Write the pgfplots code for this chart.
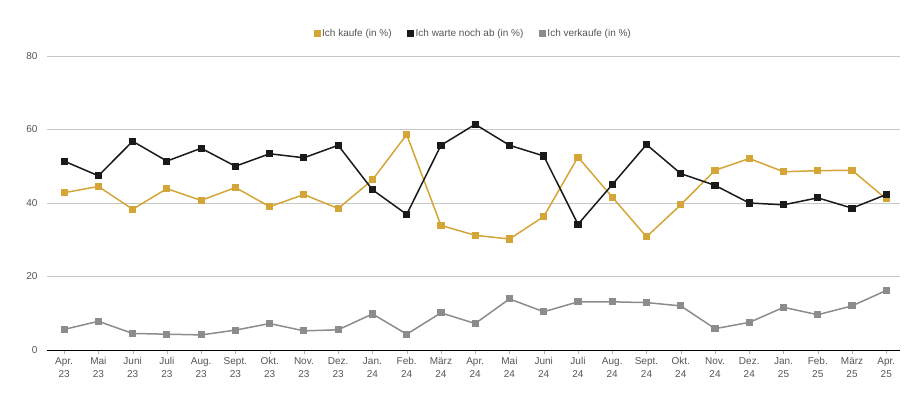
\documentclass[border=0pt]{standalone}
\usepackage{pgfplots}
\pgfplotsset{compat=1.18}
\usepackage{fontspec}
\setmainfont{Liberation Sans}
\definecolor{cgold}{HTML}{D4A537}
\definecolor{cblack}{HTML}{1A1A1A}
\definecolor{cgray}{HTML}{8C8C8C}
\definecolor{ctext}{HTML}{555555}
\begin{document}
\begin{tikzpicture}
\begin{axis}[
  scale only axis, width=853pt, height=294pt,
  xmin=-0.5, xmax=24.4, ymin=0, ymax=80,
  ytick={0,20,40,60,80},
  xtick={0,...,24},
  xticklabels={{Apr.\\23},{Mai\\23},{Juni\\23},{Juli\\23},{Aug.\\23},{Sept.\\23},{Okt.\\23},{Nov.\\23},{Dez.\\23},{Jan.\\24},{Feb.\\24},{März\\24},{Apr.\\24},{Mai\\24},{Juni\\24},{Juli\\24},{Aug.\\24},{Sept.\\24},{Okt.\\24},{Nov.\\24},{Dez.\\24},{Jan.\\25},{Feb.\\25},{März\\25},{Apr.\\25}},
  xticklabel style={align=center, font=\fontsize{10}{13}\selectfont, text=ctext},
  yticklabel style={font=\fontsize{10}{12}\selectfont, text=ctext, xshift=-2pt},
  /pgf/number format/assume math mode=true,
  ymajorgrids, grid style={color=black!22, line width=0.6pt},
  axis x line*=bottom, axis y line*=left,
  x axis line style={black, line width=0.8pt, -},
  y axis line style={draw=none},
  xtick style={draw=black!30}, tick align=outside, major tick length=4pt,
  ytick style={draw=none},
  legend style={at={(0.5,1.0)}, anchor=south, yshift=14pt, draw=none, font=\fontsize{10}{12}\selectfont, text=ctext, /tikz/every even column/.append style={column sep=14pt}},
  legend columns=3,
  legend image code/.code={\draw[#1, line width=0pt, mark=square*, mark size=3pt] plot coordinates {(0cm,0cm)};},
  every axis plot/.append style={line width=1.5pt, mark=square*, mark size=2.8pt},
]
\addplot[cgold, mark options={fill=cgold}] coordinates {(0,42.8)(1,44.5)(2,38.3)(3,43.9)(4,40.7)(5,44.2)(6,39.0)(7,42.3)(8,38.5)(9,46.3)(10,58.6)(11,33.9)(12,31.2)(13,30.2)(14,36.3)(15,52.5)(16,41.6)(17,30.8)(18,39.5)(19,48.9)(20,52.1)(21,48.5)(22,48.8)(23,48.9)(24,41.1)};
\addlegendentry{Ich kaufe (in \%)}
\addplot[cblack, mark options={fill=cblack}] coordinates {(0,51.4)(1,47.4)(2,56.8)(3,51.4)(4,54.9)(5,50.0)(6,53.4)(7,52.3)(8,55.7)(9,43.6)(10,36.9)(11,55.7)(12,61.4)(13,55.7)(14,52.8)(15,34.2)(16,45.0)(17,55.9)(18,48.0)(19,44.8)(20,40.0)(21,39.5)(22,41.4)(23,38.6)(24,42.3)};
\addlegendentry{Ich warte noch ab (in \%)}
\addplot[cgray, mark options={fill=cgray}] coordinates {(0,5.6)(1,7.8)(2,4.5)(3,4.3)(4,4.1)(5,5.4)(6,7.2)(7,5.2)(8,5.5)(9,9.8)(10,4.3)(11,10.1)(12,7.2)(13,13.9)(14,10.4)(15,13.1)(16,13.1)(17,12.9)(18,12.0)(19,5.8)(20,7.5)(21,11.6)(22,9.6)(23,12.0)(24,16.2)};
\addlegendentry{Ich verkaufe (in \%)}
\end{axis}
\useasboundingbox (current axis.south west) ++(-47pt,-57pt) rectangle ([shift={(24pt,56pt)}]current axis.north east);
\end{tikzpicture}
\end{document}
